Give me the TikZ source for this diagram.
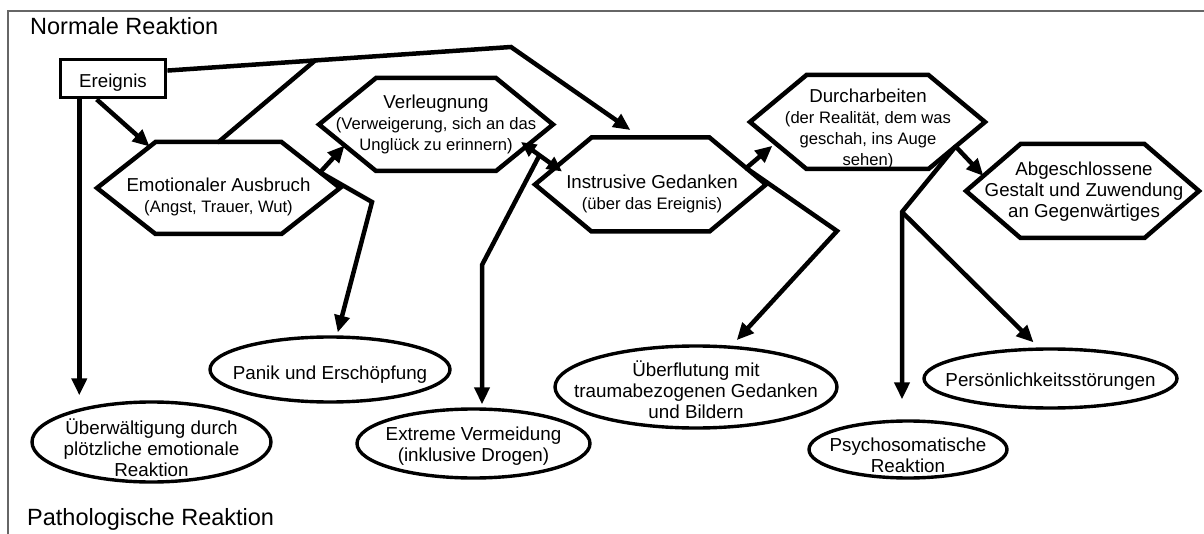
\documentclass[tikz,border=0pt]{standalone}
\usepackage{fontspec}
\setmainfont{Liberation Sans}
\usetikzlibrary{arrows.meta,calc,shapes.geometric}
\newcommand{\hexmain}{\fontsize{18.7}{21}\selectfont}
\newcommand{\hexsub}{\fontsize{16.6}{20}\selectfont}
\newcommand{\ttlfont}{\fontsize{23.5}{27}\selectfont}
\newcommand{\ellfont}{\fontsize{18.8}{21}\selectfont}
% #1 name, #2 cx, #3 cy, #4 half width (tip), #5 half width (top edge), #6 half height
\newcommand{\hexshape}[6]{%
  \coordinate (#1-c) at (#2,#3);
  \coordinate (#1-w) at ($(#1-c)+(-#4,0)$);
  \coordinate (#1-nw) at ($(#1-c)+(-#5,-#6)$);
  \coordinate (#1-ne) at ($(#1-c)+(#5,-#6)$);
  \coordinate (#1-e) at ($(#1-c)+(#4,0)$);
  \coordinate (#1-se) at ($(#1-c)+(#5,#6)$);
  \coordinate (#1-sw) at ($(#1-c)+(-#5,#6)$);
  \draw[hexline] (#1-w) -- (#1-nw) -- (#1-ne) -- (#1-e) -- (#1-se) -- (#1-sw) -- cycle;
}
\begin{document}
\begin{tikzpicture}[x=1pt,y=-1pt,
  conn/.style={line width=4.5pt, -{Triangle[length=17pt,width=15pt]}},
  connplain/.style={line width=4.5pt, line cap=round},
  dconn/.style={line width=4.5pt, {Triangle[length=15pt,width=14pt]}-{Triangle[length=15pt,width=14pt]}},
  hexline/.style={line width=4.5pt},
  hextext/.style={align=center, font=\hexmain, inner sep=0pt},
  ell/.style={draw, ellipse, line width=3.4pt, inner sep=0pt},
  elltext/.style={align=center, font=\ellfont, inner sep=0pt},
  frame/.style={line width=1.6pt, draw=black!60}]
\useasboundingbox (0,0) rectangle (1204,534);
\draw[frame] (8,534) -- (8,11) -- (1204,11);

\node[anchor=base west, inner sep=0pt, font=\ttlfont] (normal) at (30,35) {Normale Reaktion};
\node[anchor=base west, inner sep=0pt, font=\ttlfont] (patho) at (27,525) {Pathologische Reaktion};

\node[draw, line width=3.8pt, minimum width=105pt, minimum height=38pt, inner sep=0pt,
      text height=13.4pt, text depth=0pt, font=\hexmain] (ereignis) at (113,78.5) {\raisebox{-2pt}{Ereignis}};

% hexagons
\hexshape{emot}{218.5}{188}{121.5}{63}{46}
\hexshape{verl}{436}{124.5}{117}{60}{46.5}
\hexshape{intr}{650.5}{184.5}{115.5}{59}{47}
\hexshape{durch}{867.5}{122}{117.5}{61}{47}
\hexshape{abg}{1082.5}{191}{116.5}{62}{47}

\node[hextext] (emot) at (218.5,197) {Emotionaler Ausbruch\\\hexsub (Angst, Trauer, Wut)};
\node[hextext] (verl) at (436,124) {Verleugnung\\\hexsub (Verweigerung, sich an das\\\hexsub Unglück zu erinnern)};
\node[hextext] (intr) at (652,194) {Instrusive Gedanken\\\hexsub (über das Ereignis)};
\node[hextext] (durch) at (868,129) {Durcharbeiten\\\hexsub (der Realität, dem was\\\hexsub geschah, ins Auge\\\hexsub sehen)};
\node[hextext] (abg) at (1084,192) {Abgeschlossene\\Gestalt und Zuwendung\\an Gegenwärtiges};

% ellipses
\node[ell, minimum width=239pt, minimum height=80pt,
  label={[elltext,yshift=-6pt]center:{Überwältigung durch\\plötzliche emotionale\\Reaktion}}] (uberw) at (151.5,442) {};
\node[ell, minimum width=240pt, minimum height=65pt,
  label={[elltext,yshift=-5pt]center:{Panik und Erschöpfung}}] (panik) at (330,369.5) {};
\node[ell, minimum width=233pt, minimum height=69pt,
  label={[elltext,yshift=-3pt]center:{Extreme Vermeidung\\(inklusive Drogen)}}] (extreme) at (473.5,443.5) {};
\node[ell, minimum width=282pt, minimum height=82pt,
  label={[elltext,yshift=-3pt]center:{Überflutung mit\\traumabezogenen Gedanken\\und Bildern}}] (uberfl) at (696,387) {};
\node[ell, minimum width=198pt, minimum height=57pt,
  label={[elltext,yshift=-5.5pt]center:{Psychosomatische\\Reaktion}}] (psycho) at (908,449.5) {};
\node[ell, minimum width=253pt, minimum height=59pt,
  label={[elltext,yshift=-3pt]center:{Persönlichkeitsstörungen}}] (persoen) at (1050.5,378.5) {};

% connectors
\coordinate (eb) at ($(ereignis.south west)!0.19!(ereignis.south east)$);
\draw[conn, shorten >=5pt] (eb) -- (eb |- uberw.north);

\coordinate (ea) at ($(ereignis.south west)!0.35!(ereignis.south east)$);
\draw[conn] (ea) -- ($(emot-w)!0.9!(emot-nw)$);

\coordinate (es) at ($(ereignis.north east)!0.31!(ereignis.south east)$);
\coordinate (j2) at (511,47);
\coordinate (j1) at ($(es)!0.43!(j2)$);
\draw[conn, shorten >=13pt] (es) -- (j2) -- ($(intr-nw)!0.42!(intr-ne)$);
\draw[connplain] ($(emot-nw)!0.5!(emot-ne)$) -- (j1);

\coordinate (eo) at ($(emot-ne)!0.66!(emot-e)$);
\draw[conn] (eo) -- ($(verl-w)!0.45!(verl-sw)$);
\coordinate (pb) at (372,202);
\draw[conn, shorten >=3pt] (eo) -- (pb) -- ($(panik.north)+(7,0)$);

\coordinate (da1) at ($(verl-se)+(25,-29)$);
\coordinate (da2) at ($(intr-w)+(27,-13)$);
\draw[dconn] (da1) -- (da2);
\coordinate (xb) at (482,265);
\draw[conn, shorten >=3pt] ($(da1)!0.45!(da2)$) -- (xb) -- (xb |- extreme.north);

\coordinate (io) at ($(intr-ne)!0.65!(intr-e)$);
\draw[conn, shorten >=4pt] (io) -- ($(durch-w)!0.45!(durch-sw)$);
\coordinate (fb) at (837,231);
\draw[conn, shorten >=7pt] (io) -- (fb) -- ($(uberfl.north)+(36,1)$);

\coordinate (dout) at ($(durch-e)!0.52!(durch-se)$);
\draw[conn] (dout) -- ($(abg-w)!0.32!(abg-nw)$);
\coordinate (db) at (902,212);
\draw[conn, shorten >=20pt] (dout) -- (db) -- (db |- psycho.north);
\draw[conn, shorten >=7pt] (db) -- ($(persoen.north)+(-12,0)$);
\end{tikzpicture}
\end{document}
